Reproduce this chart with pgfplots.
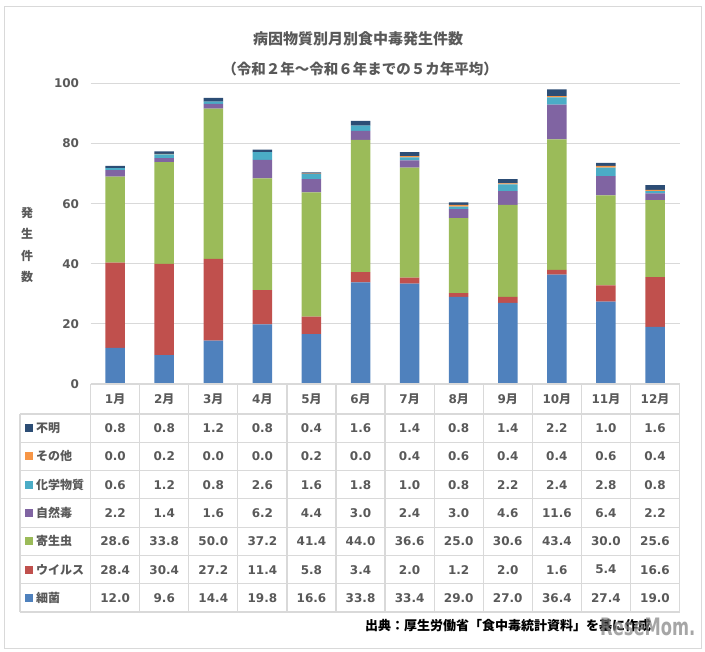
\documentclass[border=0pt]{standalone}
\usepackage{pgfplots}
\usepackage{pgfplotstable}
\pgfplotsset{compat=1.18}
\usepackage{fontspec}
\setmainfont{DejaVu Sans}
\newfontfamily\jp{Noto Sans CJK JP}
\definecolor{txt}{HTML}{595959}
\definecolor{gridc}{HTML}{D9D9D9}
\definecolor{cBac}{HTML}{4F81BD}
\definecolor{cVir}{HTML}{C0504D}
\definecolor{cPar}{HTML}{9BBB59}
\definecolor{cNat}{HTML}{8064A2}
\definecolor{cChem}{HTML}{4BACC6}
\definecolor{cOth}{HTML}{F79646}
\definecolor{cUnk}{HTML}{2C4D75}
\pgfplotstableread{
idx bac vir par nat chem oth unk
0 12.0 28.4 28.6 2.2 0.6 0.0 0.8
1 9.6 30.4 33.8 1.4 1.2 0.2 0.8
2 14.4 27.2 50.0 1.6 0.8 0.0 1.2
3 19.8 11.4 37.2 6.2 2.6 0.0 0.8
4 16.6 5.8 41.4 4.4 1.6 0.2 0.4
5 33.8 3.4 44.0 3.0 1.8 0.0 1.6
6 33.4 2.0 36.6 2.4 1.0 0.4 1.4
7 29.0 1.2 25.0 3.0 0.8 0.6 0.8
8 27.0 2.0 30.6 4.6 2.2 0.4 1.4
9 36.4 1.6 43.4 11.6 2.4 0.4 2.2
10 27.4 5.4 30.0 6.4 2.8 0.6 1.0
11 19.0 16.6 25.6 2.2 0.8 0.4 1.6
}\datatable
\begin{document}
\begin{tikzpicture}
\useasboundingbox (0,0) rectangle (705pt,652pt);
\draw[gridc, line width=1pt] (4pt,3pt) rectangle (701pt,645pt);
% titles
\node[text=txt, font=\jp\bfseries\fontsize{15pt}{18pt}\selectfont] at (358pt,613pt) {病因物質別月別食中毒発生件数};
\node[text=txt, font=\jp\bfseries\fontsize{14.5pt}{18pt}\selectfont] at (360pt,583pt) {（令和２年～令和６年までの５カ年平均）};
% y label
\node[text=txt, font=\jp\bfseries\fontsize{12pt}{21.3pt}\selectfont, align=center] at (27pt,407pt) {発\\生\\件\\数};
\begin{axis}[
  at={(90.6pt,268pt)}, anchor=south west,
  scale only axis, width=589pt, height=300.5pt,
  xmin=-0.5, xmax=11.5, ymin=0, ymax=100,
  ytick={0,20,40,60,80,100}, xtick=\empty,
  ymajorgrids, grid style={gridc, line width=1pt},
  axis line style={draw=none}, tick style={draw=none},
  yticklabel style={text=txt, font=\bfseries\fontsize{12pt}{14pt}\selectfont, /pgf/number format/assume math mode=true, xshift=-8pt},
  ybar stacked, bar width=19.5pt,
  clip=false,
]
\addplot[fill=cBac, draw=none] table[x=idx,y=bac]{\datatable};
\addplot[fill=cVir, draw=none] table[x=idx,y=vir]{\datatable};
\addplot[fill=cPar, draw=none] table[x=idx,y=par]{\datatable};
\addplot[fill=cNat, draw=none] table[x=idx,y=nat]{\datatable};
\addplot[fill=cChem, draw=none] table[x=idx,y=chem]{\datatable};
\addplot[fill=cOth, draw=none] table[x=idx,y=oth]{\datatable};
\addplot[fill=cUnk, draw=none] table[x=idx,y=unk]{\datatable};
\end{axis}
% table grid
\draw[gridc, line width=1.2pt] (90.6pt,268pt) -- (679.6pt,268pt);
\foreach \k in {0,...,7} {
  \draw[gridc, line width=1.2pt] (20pt,{652pt-414pt-28.3pt*\k}) -- (679.6pt,{652pt-414pt-28.3pt*\k});
}
\foreach \i in {0,...,12} {
  \draw[gridc, line width=1.2pt] ({90.6pt+49.08pt*\i},268pt) -- ({90.6pt+49.08pt*\i},{652pt-612.1pt});
}
\draw[gridc, line width=1.2pt] (20pt,238pt) -- (20pt,{652pt-612.1pt});
% month headers
\foreach \i in {1,...,12} {
  \node[text=txt, font=\bfseries\fontsize{12pt}{14pt}\selectfont, inner sep=0pt] at ({90.6pt+49.08pt*(\i-0.5)},{652pt-399pt}) {\i{\jp\bfseries 月}};
}
% rows
\foreach \c/\lab/\col [count=\r from 0] in {unk/不明/cUnk, oth/その他/cOth, chem/化学物質/cChem, nat/自然毒/cNat, par/寄生虫/cPar, vir/ウイルス/cVir, bac/細菌/cBac} {
  \fill[\col] (25pt,{652pt-414pt-28.3pt*(\r+0.5)-4pt}) rectangle ++(8pt,8pt);
  \node[anchor=west, text=txt, font=\jp\bfseries\fontsize{12pt}{14pt}\selectfont, inner sep=0pt] at (36pt,{652pt-414pt-28.3pt*(\r+0.5)}) {\lab};
  \foreach \i in {0,...,11} {
    \pgfplotstablegetelem{\i}{\c}\of\datatable
    \node[text=txt, font=\bfseries\fontsize{12pt}{14pt}\selectfont, inner sep=0pt] at ({90.6pt+49.08pt*(\i+0.5)},{652pt-414pt-28.3pt*(\r+0.5)}) {\pgfplotsretval};
  }
}
% source
\node[anchor=west, font=\jp\bfseries\fontsize{13pt}{15pt}\selectfont, inner sep=0pt] at (365pt,26pt) {出典：厚生労働省「食中毒統計資料」を基に作成};
\node[anchor=west, text=gray, opacity=0.7, font=\bfseries\fontsize{24pt}{26pt}\selectfont, inner sep=0pt] at (600pt,25pt) {\scalebox{0.68}[1]{ReseMom.}};
\end{tikzpicture}
\end{document}
